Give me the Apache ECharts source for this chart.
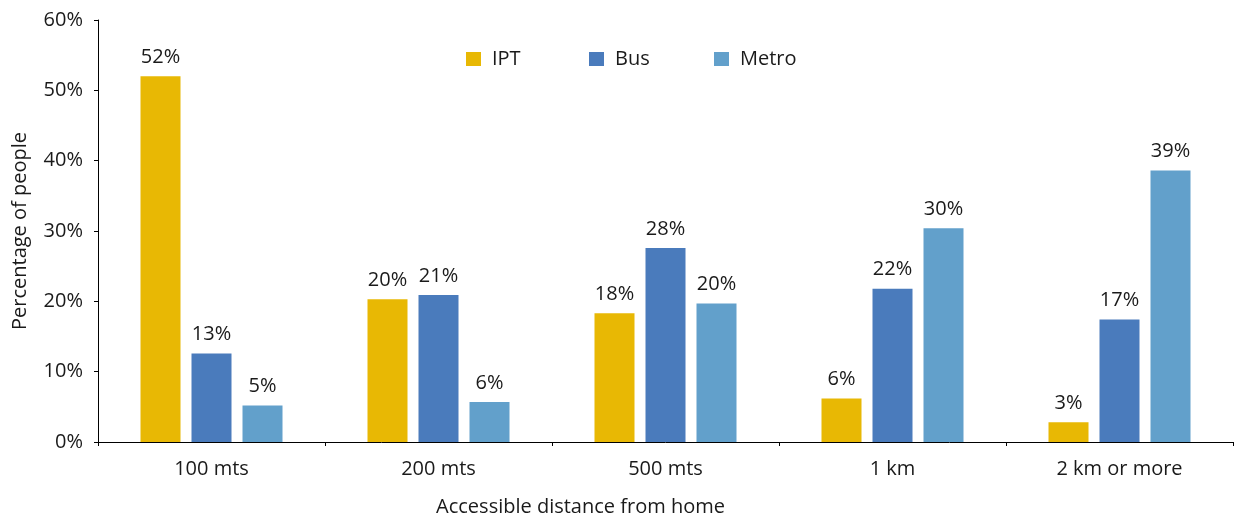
<!DOCTYPE html>
<html>
<head>
<meta charset="utf-8">
<script src="https://cdn.jsdelivr.net/npm/echarts@6/dist/echarts.min.js"></script>
<style>html,body{margin:0;padding:0;background:#fff;}#c{width:1238px;height:517px;}</style>
</head>
<body>
<div id="c"></div>
<script>
const categories = ['100 mts', '200 mts', '500 mts', '1 km', '2 km or more'];
const ipt = [52.0, 20.3, 18.3, 6.2, 2.8];
const bus = [12.6, 20.9, 27.6, 21.8, 17.4];
const metro = [5.2, 5.7, 19.7, 30.4, 38.6];
const yTicks = [0, 10, 20, 30, 40, 50, 60];

const FONT = 'Open Sans';
const FS = 20;
const TXT = '#1a1a1a';
const colors = { IPT: '#E8B804', Bus: '#4A7BBC', Metro: '#62A0CB' };

const chart = echarts.init(document.getElementById('c'), null, { renderer: 'canvas' });

function mkSeries(name, data) {
  return {
    name: name, type: 'bar', data: data,
    barWidth: 40, barGap: '27.5%',
    itemStyle: { color: colors[name] },
    label: {
      show: true, position: 'top', distance: 9,
      formatter: p => Math.round(p.value) + '%',
      color: TXT, fontFamily: FONT, fontSize: FS
    }
  };
}
function mkLegend(name, left) {
  return {
    data: [name], left: left, top: 49, itemWidth: 15, itemHeight: 14,
    icon: 'rect', itemGap: 0, padding: 0,
    textStyle: { color: TXT, fontFamily: FONT, fontSize: FS, padding: [0, 0, 0, 6] }
  };
}

chart.setOption({
  animation: false,
  textStyle: { fontFamily: FONT },
  legend: [mkLegend('IPT', 466), mkLegend('Bus', 589), mkLegend('Metro', 714)],
  grid: { left: 98, right: 5, top: 20, bottom: 75, containLabel: false, outerBoundsMode: 'none' },
  xAxis: {
    type: 'category', data: categories,
    axisLine: { lineStyle: { color: '#000', width: 1 } },
    axisTick: { show: true, alignWithLabel: false, length: 4, lineStyle: { color: '#000' } },
    axisLabel: { color: TXT, fontFamily: FONT, fontSize: FS, margin: 17 },
    name: 'Accessible distance from home', nameLocation: 'middle', nameGap: 55,
    nameTextStyle: { color: TXT, fontFamily: FONT, fontSize: FS, padding: [0, 170, 0, 0] }
  },
  yAxis: {
    type: 'value', min: yTicks[0], max: yTicks[yTicks.length - 1], interval: 10,
    axisLine: { show: true, lineStyle: { color: '#000', width: 1 } },
    axisTick: { show: true, length: 4, lineStyle: { color: '#000' } },
    splitLine: { show: false },
    axisLabel: { color: TXT, fontFamily: FONT, fontSize: FS, margin: 15, formatter: v => v + '%' },
    name: 'Percentage of people', nameLocation: 'middle', nameGap: 68, nameRotate: 90,
    nameTextStyle: { color: TXT, fontFamily: FONT, fontSize: FS }
  },
  series: [mkSeries('IPT', ipt), mkSeries('Bus', bus), mkSeries('Metro', metro)]
});
</script>
</body>
</html>
